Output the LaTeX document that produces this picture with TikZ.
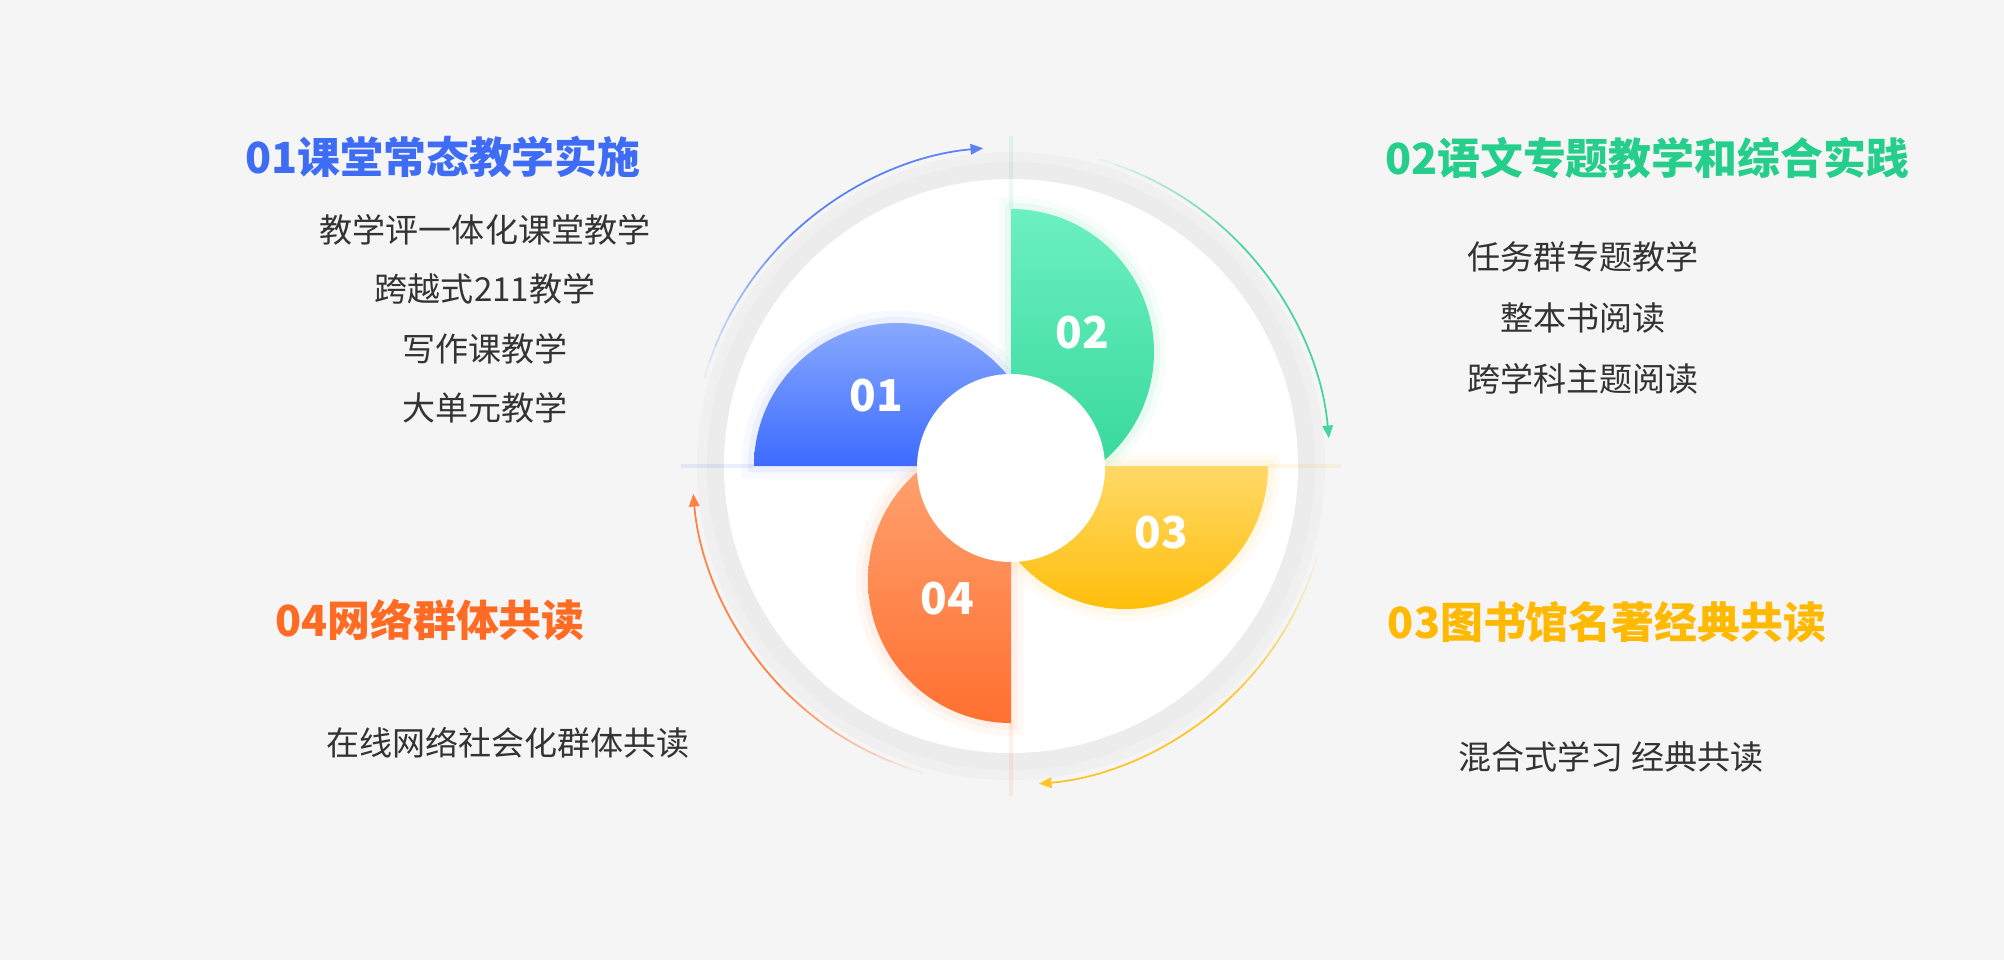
\documentclass[tikz,border=0pt]{standalone}
\usepackage{fontspec}
\setmainfont{Noto Sans CJK SC}
\usetikzlibrary{positioning,chains,arrows.meta}

\definecolor{bgcol}{RGB}{245,245,245}
\definecolor{ringcol}{RGB}{236,236,236}
\definecolor{txtcol}{RGB}{51,51,51}
\definecolor{c1}{RGB}{62,108,245}
\definecolor{c2}{RGB}{38,206,140}
\definecolor{c3}{RGB}{255,185,0}
\definecolor{c4}{RGB}{255,107,35}
\definecolor{c1top}{RGB}{136,169,255}
\definecolor{c1bot}{RGB}{61,107,255}
\definecolor{c2top}{RGB}{108,240,192}
\definecolor{c2bot}{RGB}{50,214,152}
\definecolor{c3top}{RGB}{255,217,104}
\definecolor{c3bot}{RGB}{255,190,10}
\definecolor{c4top}{RGB}{255,166,118}
\definecolor{c4bot}{RGB}{255,112,48}

\begin{document}
\begin{tikzpicture}[
headtext/.style={font=\fontsize{12.2}{14}\selectfont\bfseries,inner sep=0pt},
itemtext/.style={font=\fontsize{9.4}{11}\selectfont,text=txtcol,inner sep=0pt},
numtext/.style={font=\fontsize{12.5}{14}\selectfont\bfseries,text=white,inner sep=0pt},
flow/.style={line width=0.5pt,-{Triangle[length=3.6pt,width=3pt]}},
]

\fill[bgcol] (0,0) rectangle (20.04,9.60);
\useasboundingbox (0,0) rectangle (20.04,9.60);

% wheel
\begin{scope}[shift={(10.11,4.94)}]
\coordinate (c) at (0,0);
\fill[ringcol!50!bgcol] (c) circle (3.14);
\fill[ringcol] (c) circle (3.04);
\fill[white] (c) circle (2.87);

\foreach \a/\cl in {180/c1,90/c2,0/c3,270/c4}
  \draw[\cl,draw opacity=0.1,line width=1.4pt] (\a:2.57) -- (\a:3.30);

\foreach \a/\ct/\cb/\cl in {180/c1top/c1bot/c1,90/c2top/c2bot/c2,0/c3top/c3bot/c3,270/c4top/c4bot/c4}{
  \draw[\cl,draw opacity=0.04,line width=7pt] (\a:2.57) arc[start angle=\a,end angle=\a-180,radius=1.43] -- cycle;
  \draw[\cl,draw opacity=0.06,line width=3.5pt] (\a:2.57) arc[start angle=\a,end angle=\a-180,radius=1.43] -- cycle;
  \shade[top color=\ct,bottom color=\cb] (\a:2.57) arc[start angle=\a,end angle=\a-180,radius=1.43] -- cycle;
}

\fill[white] (0,-0.02) circle (0.94);

\node[numtext] (n1) at (-1.35,0.70) {01};
\node[numtext] (n2) at (0.71,1.33) {02};
\node[numtext] (n3) at (1.50,-0.67) {03};
\node[numtext] (n4) at (-0.64,-1.33) {04};

\foreach \s/\cl in {164/c1,74/c2,-16/c3,-106/c4}{
  \foreach \i [evaluate=\i as \op using (\i+1)/11] in {0,...,9}
    \draw[\cl!85!white,line width=0.5pt,draw opacity=\op] ({\s-3*\i}:3.19) arc[start angle={\s-3*\i},end angle={\s-3*\i-3},radius=3.19];
  \draw[flow,\cl!85!white] ({\s-30}:3.19) arc[start angle={\s-30},end angle={\s-69},radius=3.19];
}
\end{scope}

% 01
\node[headtext,text=c1] (h1) at (4.43,8.03) {01课堂常态教学实施};
\begin{scope}[start chain=going below,node distance=5.93mm,on grid]
\node[on chain,itemtext] (i1a) at (4.85,7.30) {教学评一体化课堂教学};
\node[on chain,itemtext] (i1b) {跨越式211教学};
\node[on chain,itemtext] (i1c) {写作课教学};
\node[on chain,itemtext] (i1d) {大单元教学};
\end{scope}

% 02
\node[headtext,text=c2] (h2) at (16.47,8.02) {02语文专题教学和综合实践};
\begin{scope}[start chain=going below,node distance=6.07mm,on grid]
\node[on chain,itemtext] (i2a) at (15.83,7.03) {任务群专题教学};
\node[on chain,itemtext] (i2b) {整本书阅读};
\node[on chain,itemtext] (i2c) {跨学科主题阅读};
\end{scope}

% 03
\node[headtext,text=c3] (h3) at (16.07,3.38) {03图书馆名著经典共读};
\node[itemtext] (i3a) at (16.11,2.03) {混合式学习 经典共读};

% 04
\node[headtext,text=c4] (h4) at (4.30,3.40) {04网络群体共读};
\node[itemtext] (i4a) at (5.08,2.17) {在线网络社会化群体共读};

\end{tikzpicture}
\end{document}
